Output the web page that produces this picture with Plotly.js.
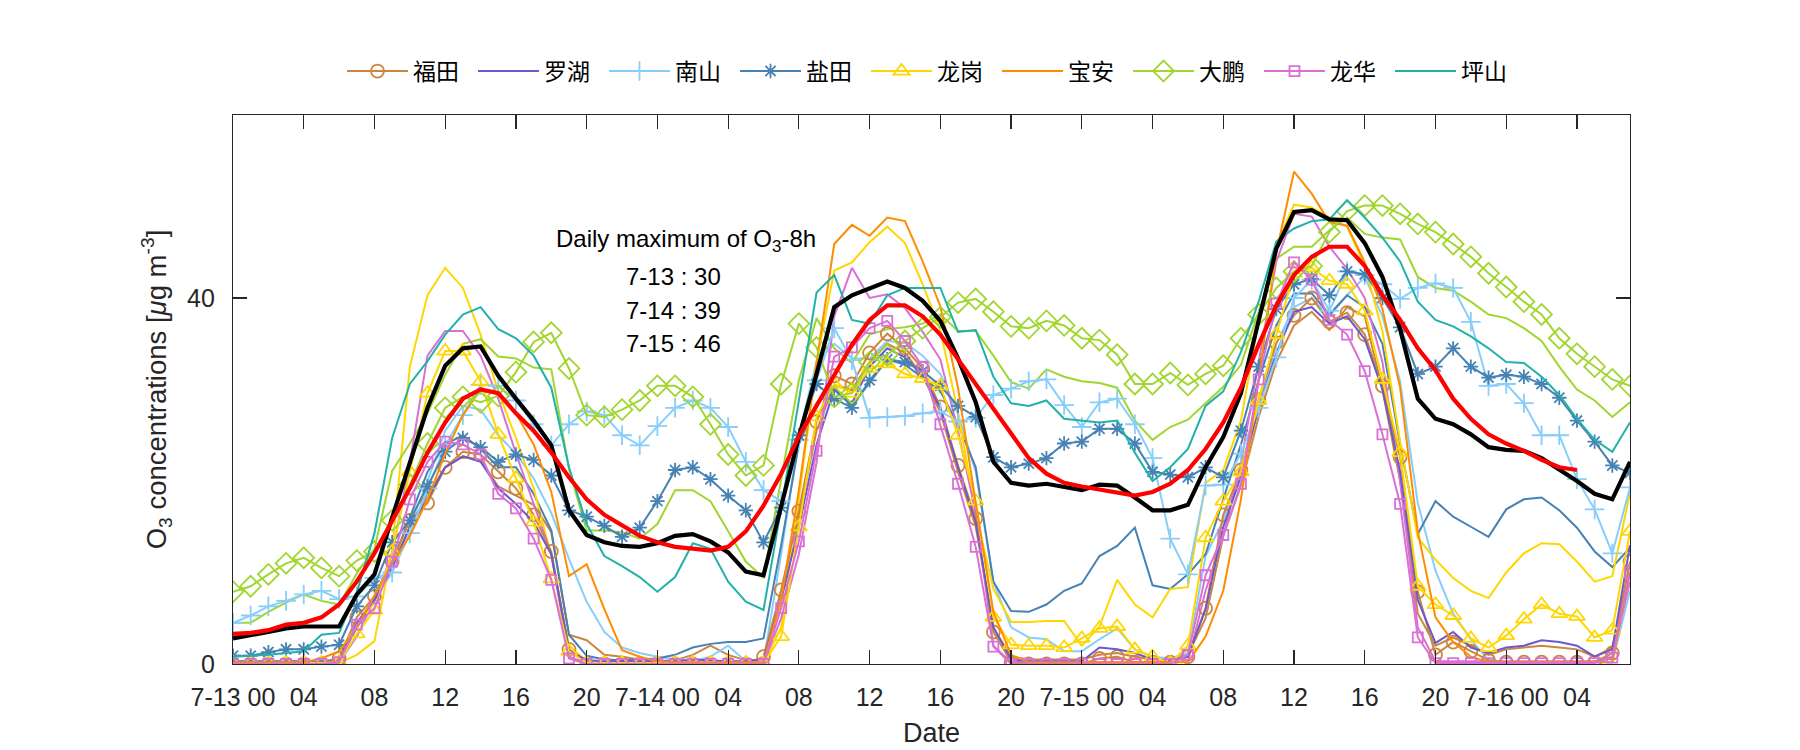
<!DOCTYPE html>
<html><head><meta charset="utf-8">
<script src="https://cdn.plot.ly/plotly-3.0.1.min.js"></script>
<style>html,body{margin:0;padding:0;background:#fff}#chart{width:1800px;height:750px}</style>
</head><body><div id="chart"></div>
<script>
// hour index from 7-13 00:00
const hours = [0,1,2,3,4,5,6,7,8,9,10,11,12,13,14,15,16,17,18,19,20,21,22,23,24,25,26,27,28,29,30,31,32,33,34,35,36,37,38,39,40,41,42,43,44,45,46,47,48,49,50,51,52,53,54,55,56,57,58,59,60,61,62,63,64,65,66,67,68,69,70,71,72,73,74,75,76,77,78,79];
const tickHours = [0,4,8,12,16,20,24,28,32,36,40,44,48,52,56,60,64,68,72,76];
const tickLabels = ['7-13 00','04','08','12','16','20','7-14 00','04','08','12','16','20','7-15 00','04','08','12','16','20','7-16 00','04'];
const yTicks = [0,40];

// stations shown in the legend
const futian = [0,0,0,0,0,0,0.6,5.1,7.4,11.2, 15.7,17.6,21.5,23.2,22.9,21.0,19.2,16.3,12.3,1.6, 0,0,0,0,0,0,0,0,0,0, 0.8,8.1,16.7,26.5,31.5,30.6,34.0,36.1,34.5,32.3, 28.1,21.7,15.9,3.5,0.2,0,0,0,0,0.6, 0.8,0.2,0.2,0.2,0.8,6.1,16.3,21.2,28.9,35.1, 38.1,40.0,37.4,38.4,36.0,30.4,22.6,7.9,1.0,2.4, 1.4,0.4,0.2,0.2,0.2,0.2,0.2,0.2,1.2,11.2];
const luohu = [0.1,0.1,0.1,0.1,0.1,0.1,0.2,4.5,7.0,10.5, 15.0,18.0,21.5,22.7,22.1,19.2,17.5,15.5,12.0,1.5, 0.4,0.3,0.3,0.3,0.3,0.3,0.5,0.4,0.3,0.3, 0.5,7.0,15.0,24.0,30.0,28.5,32.5,34.5,33.5,31.5, 28.0,21.5,15.5,4.0,0.5,0.3,0.3,0.3,0.3,1.8, 1.6,1.2,0.5,0.3,0.8,6.0,15.0,20.5,28.0,34.0, 38.5,39.0,37.2,38.0,35.5,30.0,21.0,7.0,2.3,3.5, 1.8,1.2,1.8,2.0,2.6,2.4,2.0,0.8,1.6,13.0];
const nanshan = [4.5,5.3,6.3,6.9,7.6,8.0,7.1,7.4,9.4,10.0, 14.3,19.2,23.9,27.2,30.5,30.4,28.8,26.2,23.9,26.2, 27.6,27.2,25.0,23.9,26.0,28.0,28.8,28.0,25.9,22.1, 19.0,17.8,24.5,31.0,36.7,33.2,26.9,27.0,27.1,27.4, 27.6,26.5,26.9,29.4,30.1,30.9,31.1,28.3,25.9,28.6, 29.0,26.2,22.5,13.7,9.8,19.5,19.6,23.0,28.0,33.5, 40.0,42.0,38.6,42.9,42.5,41.5,39.9,41.1,41.6,41.1, 37.4,30.4,30.6,28.5,25.0,25.0,20.2,16.9,12.1,19.3];
const yantian = [0.9,0.9,1.3,1.6,1.6,1.9,2.1,6.3,8.6,13.3, 15.7,19.4,23.2,24.7,23.7,22.1,22.9,22.3,20.6,16.8, 16.1,15.1,13.9,14.9,17.8,21.2,21.5,20.2,18.4,16.8, 13.3,17.1,25.0,30.6,29.0,28.0,31.0,33.3,33.0,32.0, 30.4,28.2,27.0,22.6,21.5,21.9,22.5,24.1,24.3,25.7, 25.7,24.1,21.0,20.7,20.4,21.5,20.4,25.5,32.5,38.8, 41.5,42.1,40.3,42.9,42.6,40.0,36.8,31.7,32.5,34.5, 32.5,31.3,31.6,31.4,30.6,29.1,26.6,24.3,21.7,20.9];
const longgang = [0.1,0.1,0.1,0.1,0.1,0.1,0.2,3.3,5.9,12.3, 21.0,29.6,34.2,34.2,30.9,25.1,20.3,15.5,9.3,1.4, 0.1,0.1,0.1,0.1,0.1,0.1,0.1,0.1,0.1,0.1, 0.1,3.0,15.0,27.0,30.6,29.6,32.3,32.8,31.7,31.2, 30.4,25.0,17.8,5.1,2.1,2.0,2.0,1.8,2.8,3.9, 4.1,1.6,0.8,0.1,2.0,13.8,17.8,21.0,28.8,36.0, 42.7,43.3,41.9,41.5,38.6,31.1,23.1,8.5,6.5,5.3, 2.8,1.8,3.1,4.9,6.5,5.5,5.2,2.9,3.7,14.5];
const baoan = [0.2,0.2,0.2,0.2,0.2,0.6,1.4,4.0,7.5,11.0, 14.0,18.0,23.0,27.2,30.0,29.5,27.4,24.0,18.8,9.6, 10.9,6.0,1.5,0.8,0.3,0.2,0.2,0.2,0.2,0.2, 0.2,7.0,19.0,33.0,45.9,48.0,46.8,48.8,48.4,44.0, 39.1,30.2,17.6,5.7,1.0,0.2,0.2,0.2,0.2,0.2, 0.2,0.2,0.2,0.2,0.2,3.0,8.0,18.0,31.0,45.0, 53.8,51.4,48.3,47.9,43.9,38.8,30.2,14.5,5.1,2.4, 0.8,0.2,0.2,0.2,0.2,0.2,0.2,0.2,0.2,10.0];
const dapeng = [7.9,8.5,9.8,11.0,11.6,10.5,9.6,11.3,12.3,15.7, 19.6,24.1,28.0,29.2,28.6,29.3,31.9,35.2,36.2,32.3, 27.2,27.0,27.8,28.8,30.4,30.4,29.2,26.2,22.9,20.6, 21.7,30.6,37.2,34.6,29.2,29.6,33.0,33.8,35.3,36.7, 37.9,39.5,39.9,38.5,36.9,36.7,37.5,37.0,35.6,35.4, 33.8,30.6,30.6,31.8,30.5,31.7,32.6,35.6,38.2,41.1, 42.9,43.5,47.2,49.5,50.1,50.1,49.2,48.1,47.2,45.9, 44.5,42.7,41.2,39.6,38.2,35.6,33.9,32.5,31.1,30.4];
const longhua = [0,0,0,0,0,0,0.2,4.3,6.1,11.2, 18.0,22.1,24.3,24.0,22.9,18.6,17.0,13.7,9.2,0.6, 0,0,0,0,0,0,0,0,0,0, 0,6.1,13.4,23.3,33.6,34.6,36.7,37.5,35.3,32.5, 26.2,19.7,12.8,1.9,0,0,0,0,0,0, 0,0,0,0,1.0,9.7,14.1,19.7,31.1,39.4, 43.9,42.0,37.6,36.0,32.0,25.1,17.5,2.9,0.1,0.1, 0.1,0.1,0.1,0.1,0.1,0.1,0.1,0.1,0.7,10.0];
const pingshan = [0.8,0.9,1.0,1.2,1.4,3.2,3.4,7.8,14.3,24.7, 30.6,33.1,36.0,38.2,39.0,36.6,35.6,33.7,30.2,21.5, 15.3,11.8,10.7,9.5,7.9,9.5,13.2,12.6,9.0,6.8, 5.9,17.0,29.0,40.6,42.5,37.6,37.2,40.3,41.1,41.1, 41.1,36.3,36.5,31.4,28.5,28.2,28.8,26.8,26.6,26.4, 26.6,23.1,20.0,21.5,23.5,28.2,29.8,34.1,39.6,46.2, 47.6,48.4,48.6,50.7,48.8,46.6,44.0,39.6,37.6,36.9, 35.8,34.5,33.0,32.9,31.4,29.4,26.8,24.5,23.2,26.4];

// additional unlabelled lines (same colours, no markers)
const futianB = [0.2,0.2,0.2,0.2,0.2,0.2,0.3,4.0,7.0,10.5, 15.0,18.5,21.5,22.7,22.3,19.4,18.4,17.4,14.4,3.2, 2.6,1.0,0.8,0.5,0.3,0.4,1.0,2.0,1.0,0.4, 0.5,8.0,16.0,25.5,30.5,30.0,33.0,35.0,34.0,31.5, 27.5,21.0,15.0,4.0,0.8,0.5,0.5,0.5,0.5,1.0, 1.2,0.8,0.5,0.5,1.0,5.0,14.0,19.5,27.0,33.0, 37.0,38.5,36.5,39.0,38.0,30.0,20.0,5.5,2.0,2.9, 2.0,1.0,1.6,1.8,2.0,1.8,1.6,0.8,1.8,11.0];
const nanshanB = [0.3,0.3,0.3,0.3,0.3,0.3,0.5,4.0,7.0,10.0, 15.0,20.0,25.5,28.2,27.8,25.0,23.0,20.3,16.5,11.5, 6.8,3.5,1.8,1.2,0.8,0.5,0.3,0.8,2.0,0.3, 0.2,12.0,25.0,33.0,35.0,33.4,33.4,35.3,35.1,33.7, 31.7,27.3,21.0,9.0,4.0,2.9,2.7,1.4,1.4,2.7, 3.9,1.6,0.8,0.6,1.2,11.8,15.7,21.0,28.0,35.0, 39.0,40.0,38.0,40.3,42.3,38.0,30.9,17.6,10.2,5.5, 2.7,0.4,0.2,0.2,0.2,0.2,0.2,0.2,0.2,8.0];
const yantianB = [0.3,0.3,0.3,0.3,0.3,0.3,0.5,4.0,7.0,11.0, 16.0,21.0,24.0,25.0,23.5,21.5,21.5,18.6,14.6,3.2, 0.9,0.5,0.4,0.5,0.6,1.0,1.8,2.2,2.4,2.4, 2.8,13.0,24.0,28.5,30.0,28.2,30.7,33.3,32.7,31.3, 29.8,26.2,21.5,9.0,5.8,5.7,6.5,8.0,8.8,11.8, 12.9,14.9,8.6,8.2,9.8,12.0,18.0,24.0,31.0,37.0, 40.5,40.5,38.2,40.3,39.0,35.0,24.0,14.2,17.8,16.1, 15.0,13.9,16.9,18.0,18.2,16.8,14.9,12.3,10.6,12.7];
const longgangB = [0.1,0.1,0.1,0.1,0.1,0.1,0.1,1.0,2.5,12.5, 32.5,40.3,43.3,41.1,36.0,29.8,24.7,19.2,11.8,2.0, 0.3,0.1,0.1,0.1,0.1,0.1,0.1,0.1,0.1,0.1, 0.1,4.0,18.0,33.0,43.0,43.9,46.1,47.8,46.0,41.5, 36.5,27.5,16.5,8.2,4.6,4.6,4.7,4.7,2.0,4.1, 9.2,6.5,5.1,8.2,8.4,19.8,21.2,26.6,37.6,45.8, 50.2,49.9,48.8,47.8,43.5,36.4,24.3,13.8,11.4,9.4, 8.0,7.2,10.0,12.1,13.2,13.1,11.2,9.0,9.6,18.7];
const dapengB = [4.5,4.5,5.7,6.7,7.6,6.9,6.5,9.9,12.6,21.1, 24.1,27.4,31.6,35.0,35.5,33.6,33.4,32.4,32.2,21.3, 14.6,14.6,14.4,13.7,15.3,19.0,19.0,17.8,14.5,11.2, 9.4,20.0,31.0,37.8,34.5,32.9,36.0,36.6,36.8,37.2, 38.2,36.4,36.4,33.7,30.8,30.1,32.2,31.4,30.9,30.7, 30.2,26.6,24.5,25.9,26.7,28.5,30.3,32.7,38.6,44.3, 45.6,45.6,47.4,48.8,47.0,46.6,46.4,42.3,41.1,40.8, 39.6,38.2,37.8,36.7,35.3,32.5,30.0,28.8,27.0,28.6];
const longhuaB = [0.1,0.1,0.1,0.1,0.1,0.1,0.2,3.0,7.0,12.0, 22.0,33.7,36.4,36.4,33.7,29.0,23.0,17.5,12.0,0.8, 0.1,0.1,0.1,0.1,0.1,0.1,0.1,0.1,0.1,0.1, 0.1,5.0,12.0,22.0,38.0,43.3,40.0,40.4,38.9,36.3, 33.3,25.5,16.5,2.0,0.2,0.2,0.2,0.2,0.2,0.2, 0.2,0.2,0.2,0.2,0.3,8.0,14.0,22.0,33.0,44.0, 49.2,48.9,45.6,43.2,40.0,33.0,20.0,4.0,0.3,0.3, 0.3,0.3,0.3,0.3,0.3,0.3,0.3,0.3,0.8,9.0];

// city mean (black) and its 8-h running mean (red)
const cityMean = [2.8,3.1,3.5,3.9,4.1,4.1,4.1,7.6,9.8,16.0, 22.0,28.0,32.6,34.5,34.7,31.5,29.0,26.6,23.9,16.8, 14.1,13.3,12.9,12.8,13.2,14.0,14.2,13.4,12.2,10.1, 9.7,17.4,24.8,31.7,39.0,40.3,41.1,41.8,41.1,39.7, 37.5,33.4,28.6,22.1,19.8,19.5,19.7,19.4,19.0,19.6, 19.5,18.2,16.8,16.8,17.4,21.5,24.8,29.6,37.6,45.4, 49.4,49.6,48.6,48.5,46.0,42.3,36.6,29.0,26.8,26.2, 25.1,23.7,23.4,23.3,22.5,21.3,20.0,18.6,18.0,22.1];
const mean8h = [3.3,3.4,3.7,4.3,4.5,5.1,6.5,9.0,12.1,15.7, 19.2,23.1,26.4,29.0,30.0,29.6,27.4,25.5,23.1,20.4, 18.0,16.3,15.1,14.0,13.3,12.8,12.6,12.4,12.8,14.5, 17.3,20.8,24.9,28.2,31.6,34.9,37.6,39.2,39.2,38.0, 36.0,33.3,30.6,27.8,25.2,22.5,20.8,19.8,19.4,19.1, 18.7,18.4,18.8,19.7,21.2,23.5,26.4,30.2,34.9,39.2, 42.5,44.5,45.6,45.6,43.5,40.3,37.6,34.5,32.1,29.0, 26.8,25.1,24.1,23.3,22.3,21.5,21.2,null,null,null];

const annTitle = 'Daily maximum of O<sub>3</sub>-8h';
const annLines = ['7-13 : 30','7-14 : 39','7-15 : 46'];

const C = {peru:'#CD853F', slate:'#6A5ACD', sky:'#87CEFA', steel:'#4682B4', gold:'#FFD700', orange:'#FF8C00', yg:'#A0D62E', orchid:'#DA70D6', teal:'#20B2AA'};

function ln(y, color, name, show, symbol, msize) {
  const t = {x: hours, y: y, type:'scatter', name: name, showlegend: show,
    line:{color: color, width: 2}, hoverinfo:'skip'};
  if (symbol) {
    t.mode = 'lines+markers';
    t.marker = {symbol: symbol, size: msize, color: color, line:{color: color, width: 1.8}};
  } else t.mode = 'lines';
  return t;
}

const traces = [
  ln(futianB, C.peru, 'b1', false),
  ln(nanshanB, C.sky, 'b2', false),
  ln(yantianB, C.steel, 'b3', false),
  ln(longgangB, C.gold, 'b4', false),
  ln(dapengB, C.yg, 'b5', false),
  ln(longhuaB, C.orchid, 'b6', false),
  ln(futian, C.peru, '福田', true, 'circle-open', 13),
  ln(luohu, C.slate, '罗湖', true),
  ln(nanshan, C.sky, '南山', true, 'cross-thin-open', 14),
  ln(yantian, C.steel, '盐田', true, 'asterisk-open', 12),
  ln(longgang, C.gold, '龙岗', true, 'triangle-up-open', 14),
  ln(baoan, C.orange, '宝安', true),
  ln(dapeng, C.yg, '大鹏', true, 'diamond-open', 16),
  ln(longhua, C.orchid, '龙华', true, 'square-open', 10),
  ln(pingshan, C.teal, '坪山', true),
  {x: hours, y: cityMean, type:'scatter', mode:'lines', showlegend:false, line:{color:'#000000', width:4.2}, hoverinfo:'skip'},
  {x: hours, y: mean8h, type:'scatter', mode:'lines', showlegend:false, line:{color:'#FF0000', width:4.2}, hoverinfo:'skip'}
];

const axisCol = '#262626';
const anns = [{x: 25.6, y: 46.3, xref:'x', yref:'y', text: annTitle, showarrow:false, xanchor:'center', yanchor:'middle', font:{size:24, color:'#000'}}];
const annY = [42.3, 38.6, 35.0];
annLines.forEach((t,i)=>anns.push({x: 24.9, y: annY[i], xref:'x', yref:'y', text: t, showarrow:false, xanchor:'center', yanchor:'middle', font:{size:24, color:'#000'}}));

const layout = {
  width:1800, height:750,
  margin:{l:233, r:170, t:115, b:86},
  paper_bgcolor:'#ffffff', plot_bgcolor:'#ffffff',
  font:{family:'"Liberation Sans", Arial, sans-serif', size:25, color:axisCol},
  showlegend:true,
  legend:{orientation:'h', x:0.5, xanchor:'center', y:1.08, yanchor:'middle',
    font:{family:'"Noto Sans CJK SC", sans-serif', size:23, color:'#000'},
    itemwidth:61, entrywidth:55, entrywidthmode:'pixels', bgcolor:'rgba(0,0,0,0)', borderwidth:0, traceorder:'normal'},
  xaxis:{range:[0,79], tickmode:'array', tickvals:tickHours, ticktext:tickLabels, ticks:'inside', ticklen:14, tickwidth:1.2, tickcolor:axisCol,
    showline:true, linecolor:axisCol, linewidth:1.2, mirror:'allticks', showgrid:false, zeroline:false,
    tickfont:{size:25, color:axisCol}, ticklabelstandoff:11,
    title:{text:'Date', font:{size:27, color:axisCol}, standoff:12}},
  yaxis:{range:[0,60], tickmode:'array', tickvals:yTicks, ticks:'inside', ticklen:14, tickwidth:1.2, tickcolor:axisCol,
    showline:true, linecolor:axisCol, linewidth:1.2, mirror:'allticks', showgrid:false, zeroline:false,
    tickfont:{size:25, color:axisCol}, ticklabelstandoff:12,
    title:{text:'O<sub>3</sub> concentrations [<i>μ</i>g m<sup>-3</sup>]', font:{size:27.5, color:axisCol}, standoff:12}},
  annotations: anns,
  hovermode:false
};

Plotly.newPlot('chart', traces, layout, {displayModeBar:false, staticPlot:true});
</script>
</body></html>
